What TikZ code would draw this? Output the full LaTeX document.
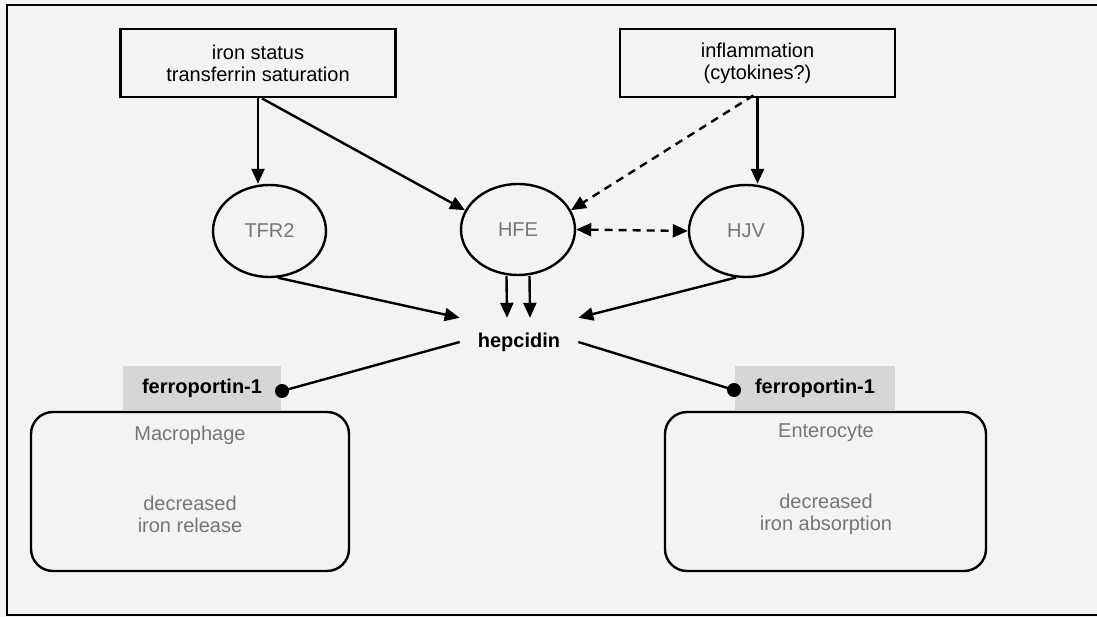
\documentclass[tikz,border=0pt]{standalone}
\usepackage{fontspec}
\setmainfont{Liberation Sans}
\usetikzlibrary{arrows.meta,shapes.geometric}
\definecolor{bgc}{RGB}{243,243,243}
\definecolor{txtgray}{RGB}{118,118,118}
\definecolor{fpgray}{RGB}{214,214,214}
\tikzset{
  base/.style={font=\fontsize{20}{22}\selectfont},
  sbox/.style={draw, line width=2.8pt, fill=none, align=center, inner sep=0pt},
  ell/.style={ellipse, draw, line width=2.4pt, text=txtgray, inner sep=0pt},
  cellbox/.style={draw, line width=2.4pt, rounded corners=22pt, inner sep=0pt},
  graytext/.style={text=txtgray, align=center},
  fpbox/.style={fill=fpgray, font=\fontsize{20}{22}\selectfont\bfseries, inner sep=0pt},
  dotnode/.style={circle, fill=black, inner sep=0pt, minimum size=14pt},
  arr/.style={line width=2.4pt, -{Triangle[length=15pt,width=13pt]}},
  darr/.style={line width=2.4pt, dash pattern=on 8pt off 6pt, -{Triangle[length=15pt,width=13pt]}},
  ddarr/.style={line width=2.4pt, dash pattern=on 8pt off 6pt, {Triangle[length=15pt,width=13pt]}-{Triangle[length=15pt,width=13pt]}},
  plain/.style={line width=2.4pt},
}
\begin{document}
\begin{tikzpicture}[x=1pt,y=-1pt,base]
\useasboundingbox (0,0) rectangle (1097,617);
\fill[bgc] (0,0) rectangle (1097,617);
\draw[line width=2.6pt] (1097,5) -- (7,5) -- (7,615) -- (1097,615);

% top boxes
\node[sbox, minimum width=275pt, minimum height=68pt] (iron) at (258,63) {iron status\\transferrin saturation};
\node[sbox, minimum width=275pt, minimum height=68pt] (infl) at (757.5,63) {inflammation\\(cytokines?)};

% ellipses
\node[ell, minimum width=113pt, minimum height=92pt] (tfr) at (269.5,231) {TFR2};
\node[ell, minimum width=114pt, minimum height=91pt] (hfe) at (518,229.5) {HFE};
\node[ell, minimum width=114pt, minimum height=92pt] (hjv) at (746,231) {HJV};

% hepcidin
\node[font=\fontsize{20}{22}\selectfont\bfseries, inner xsep=18pt, inner ysep=0pt, minimum height=48pt] (hep) at (519,342) {hepcidin};

% ferroportin labels
\node[fpbox, minimum width=158pt, minimum height=44pt] (fpL) at (202,388) {ferroportin-1};
\node[fpbox, minimum width=160pt, minimum height=44pt] (fpR) at (815,388) {ferroportin-1};
\node[dotnode] (dotL) at (282,391) {};
\node[dotnode] (dotR) at (734,390) {};

% cells
\node[cellbox, minimum width=318pt, minimum height=159pt] (mac) at (190,491.5) {};
\node[cellbox, minimum width=321pt, minimum height=159pt] (ent) at (825.5,491.5) {};
\node[graytext] (macT) at (190,435) {Macrophage};
\node[graytext] (macD) at (190,514.5) {decreased\\iron release};
\node[graytext] (entT) at (826,433) {Enterocyte};
\node[graytext] (entD) at (826,514.5) {decreased\\iron absorption};

% connectors
\draw[arr] (iron.south) -- (iron.south |- tfr.north);
\draw[arr] ([xshift=4pt]iron.south) -- (hfe.160);
\draw[arr] (infl.south) -- (infl.south |- hjv.north);
\draw[darr] ([xshift=-4pt,yshift=3pt]infl.south) -- (hfe.20);
\draw[ddarr] (hfe.east) -- (hjv.west);
\draw[arr] (tfr.-80) -- (hep.north west);
\draw[arr] (hjv.-102) -- (hep.north east);
\draw[arr] ([xshift=-11.5pt]hfe.south) -- ([xshift=-12pt]hep.north);
\draw[arr] ([xshift=11.5pt]hfe.south) -- ([xshift=11pt]hep.north);
\draw[plain] (hep.west) -- (dotL.center);
\draw[plain] (hep.east) -- (dotR.center);
\end{tikzpicture}
\end{document}
